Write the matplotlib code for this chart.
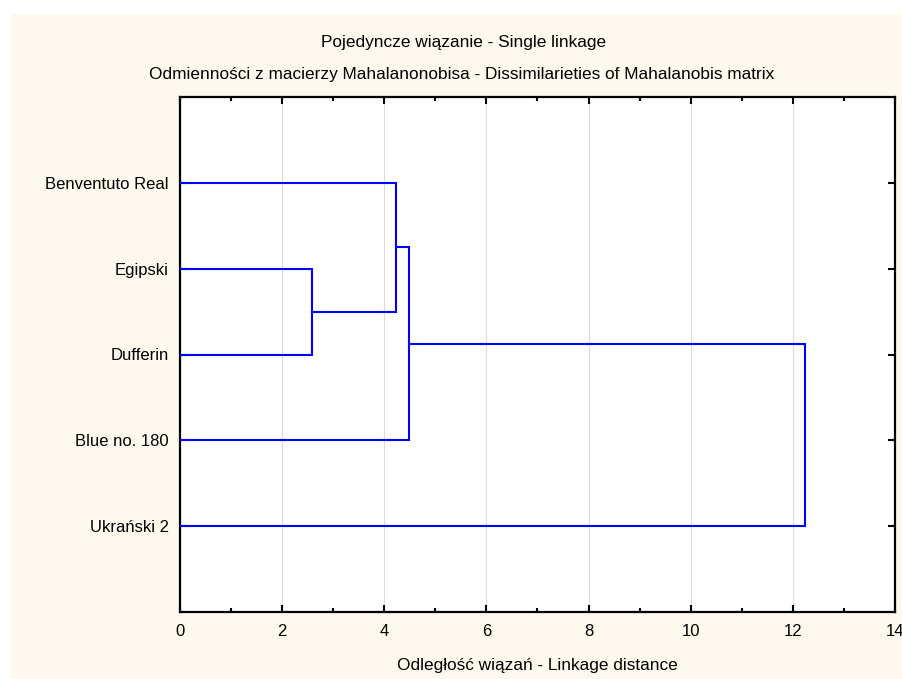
import matplotlib
matplotlib.use("Agg")
import matplotlib.pyplot as plt
import matplotlib.patches as mpatches
from matplotlib.ticker import MultipleLocator

# leaves in drawing order, top to bottom
labels = ["Benventuto Real", "Egipski", "Dufferin", "Blue no. 180", "Ukrański 2"]
# merges: (left member, right member, linkage distance); members are leaf
# names or indices of earlier merges
merges = [
    ("Egipski", "Dufferin", 2.59),
    ("Benventuto Real", 0, 4.22),
    (1, "Blue no. 180", 4.48),
    (2, "Ukrański 2", 12.23),
]

BG = "#fef9ef"
LINE = "#0000ff"
GRID = "#dcdcdc"
FONT = ["Liberation Sans", "DejaVu Sans"]

plt.rcParams["font.family"] = FONT
plt.rcParams["font.size"] = 12

fig = plt.figure(figsize=(9.03, 6.79), dpi=100)
fig.patch.set_facecolor("white")
fig.patches.append(mpatches.Rectangle((11 / 903, 0), 1, 1 - 14 / 679,
                                      transform=fig.transFigure,
                                      facecolor=BG, edgecolor="none", zorder=-10))

ax = fig.add_axes([180 / 903, 1 - 612 / 679, (895 - 180) / 903, (612 - 97) / 679])
ax.set_facecolor("white")

ypos = {name: i + 1 for i, name in enumerate(labels)}
nodes = []  # (y, x) of each merged cluster
def where(m):
    if isinstance(m, int):
        return nodes[m]
    return ypos[m], 0.0

for a, b, d in merges:
    ya, xa = where(a)
    yb, xb = where(b)
    ax.plot([xa, d, d, xb], [ya, ya, yb, yb], color=LINE, lw=1.5,
            solid_joinstyle="miter", zorder=3)
    nodes.append(((ya + yb) / 2, d))

ax.set_xlim(0, 14)
ax.set_ylim(6, 0)
ax.set_yticks(range(1, len(labels) + 1))
ax.set_yticklabels(labels)
ax.xaxis.set_major_locator(MultipleLocator(2))
ax.xaxis.set_minor_locator(MultipleLocator(1))
ax.grid(axis="x", which="major", color=GRID, lw=0.8, zorder=0)

for s in ax.spines.values():
    s.set_linewidth(1.6)
    s.set_color("black")
ax.tick_params(direction="in", top=True, right=True, length=5, width=1.5,
               labelsize=12, colors="black")
ax.tick_params(axis="y", pad=8)
ax.tick_params(axis="x", pad=9)
ax.tick_params(axis="x", which="minor", direction="in", top=True, length=3, width=1.5)

ax.set_xlabel("Odległość wiązań - Linkage distance", fontsize=12.4, labelpad=13)

fig.text(464 / 903, 1 - 43 / 679, "Pojedyncze wiązanie - Single linkage",
         ha="center", va="center", fontsize=12.4)
fig.text(462 / 903, 1 - 74 / 679,
         "Odmienności z macierzy Mahalanonobisa - Dissimilarieties of Mahalanobis matrix",
         ha="center", va="center", fontsize=12.4)

fig.savefig("out.png", dpi=100, facecolor=fig.get_facecolor())
